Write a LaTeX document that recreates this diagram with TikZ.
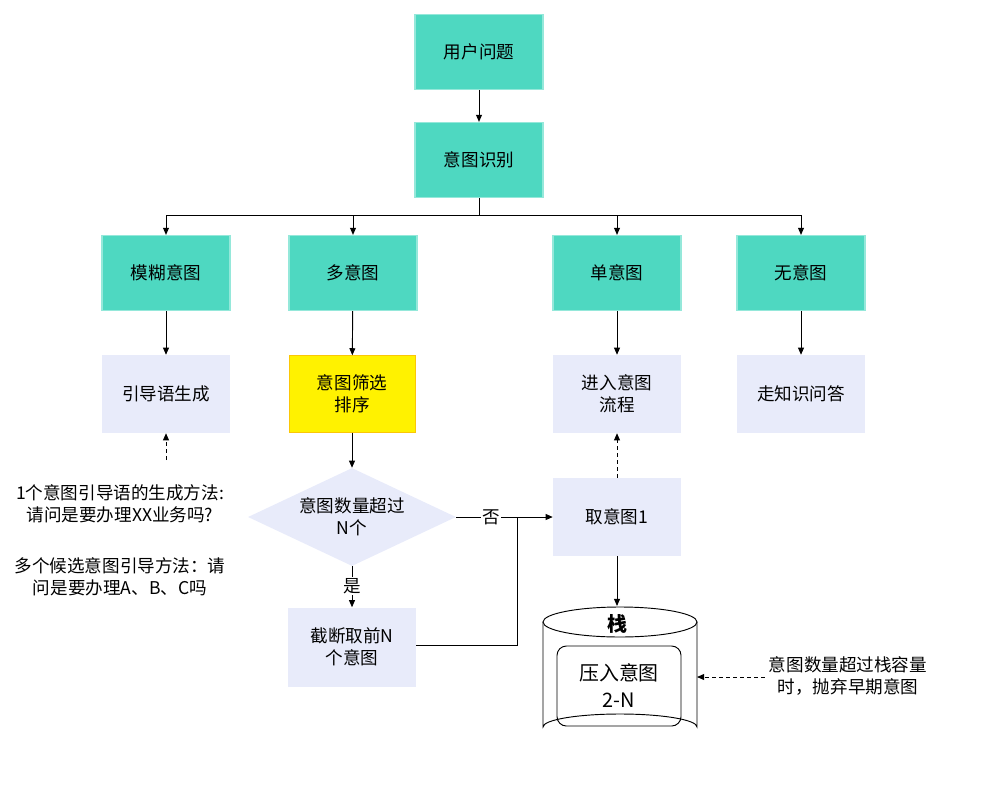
\documentclass[tikz,border=0pt]{standalone}
\usepackage{fontspec}
\setmainfont{Noto Sans CJK SC}
\usetikzlibrary{shapes.geometric,arrows.meta}
\definecolor{teal1}{HTML}{4ED8C1}
\definecolor{lav}{HTML}{E8EBFA}
\begin{document}
\begin{tikzpicture}[x=0.03cm,y=-0.03cm,
 font=\fontsize{15}{19}\selectfont,
 tb/.style={draw=teal1!60!white,line width=1pt,fill=teal1,minimum width=128*0.03cm,minimum height=75*0.03cm,inner sep=0pt,align=center},
 lb/.style={fill=lav,minimum width=128*0.03cm,minimum height=78*0.03cm,inner sep=0pt,align=center},
 arr/.style={-{Triangle[length=6pt,width=5pt]},line width=0.8pt},
 darr/.style={arr,dashed}]
\useasboundingbox (0,0) rectangle (991,787);
\node[tb] (q) at (479,52) {用户问题};
\node[tb] (r) at (479,160) {意图识别};
\node[tb] (m) at (166,273) {模糊意图};
\node[tb] (d) at (353,273) {多意图};
\node[tb] (s) at (617,273) {单意图};
\node[tb] (w) at (801,273) {无意图};
\node[lb] (g) at (166,394) {引导语生成};
\node[lb,fill=yellow,draw=yellow!60!orange,minimum width=126*0.03cm,minimum height=77*0.03cm] (p) at (352,394) {意图筛选\\排序};
\node[lb] (e) at (617,394) {进入意图\\流程};
\node[lb] (k) at (801,394) {走知识问答};
\node[diamond,fill=lav,aspect=2.1,minimum width=208*0.03cm,minimum height=98*0.03cm,inner sep=0pt,align=center] (dm) at (352,517) {意图数量超过\\N个};
\node[lb] (t) at (617,517) {取意图1};
\node[lb,minimum height=79*0.03cm] (c) at (352,647) {截断取前N\\个意图};
\node[align=center] (note1) at (120,504) {1个意图引导语的生成方法:\\请问是要办理XX业务吗?};
\node[align=center] (note2) at (120,577) {多个候选意图引导方法：请\\问是要办理A、B、C吗};
\node[align=center] (note3) at (848,676) {意图数量超过栈容量\\时，抛弃早期意图};
\coordinate (gn) at (166,460);
% cylinder
\draw[line width=0.8pt,fill=white] (543,622) -- (543,727) arc[start angle=180,end angle=360,x radius=77,y radius=13] -- (697,622);
\draw[line width=0.8pt,fill=white] (620,622) ellipse[x radius=77,y radius=15];
\node[font=\fontsize{17}{19}\selectfont\bfseries] (st) at (617,624) {栈};
\node[draw,rounded corners=8pt,line width=0.8pt,minimum width=124*0.03cm,minimum height=80*0.03cm,align=center,font=\fontsize{17}{23}\selectfont] (pu) at (619,686) {压入意图\\2-N};
\coordinate (cyt) at (617,606);
\coordinate (cyr) at (697,677);
% connectors
\draw[arr] (q) -- (r);
\draw[line width=0.8pt] (r.south) -- (479,215);
\draw[line width=0.8pt] (166,215) -- (801,215);
\foreach \n/\x in {m/166,d/353,s/617,w/801} \draw[arr] (\x,215) -- (\n.north);
\draw[arr] (m) -- (g);
\draw[arr] (d) -- (p);
\draw[arr] (s) -- (e);
\draw[arr] (w) -- (k);
\draw[darr] (gn) -- (g.south);
\draw[arr] (p) -- (dm.north);
\draw[arr] (dm.east) -- node[pos=0.36,fill=white,inner sep=1pt]{否} (t.west);
\draw[arr] (dm.south) -- node[pos=0.48,fill=white,inner sep=1pt]{是} (c.north);
\draw[line width=0.8pt] (c.east |- 0,645) -- (517,645) -- (517,517);
\draw[darr] (t) -- (e);
\draw[arr] (t) -- (cyt);
\draw[darr] (note3.west |- cyr) -- (cyr);
\end{tikzpicture}
\end{document}
